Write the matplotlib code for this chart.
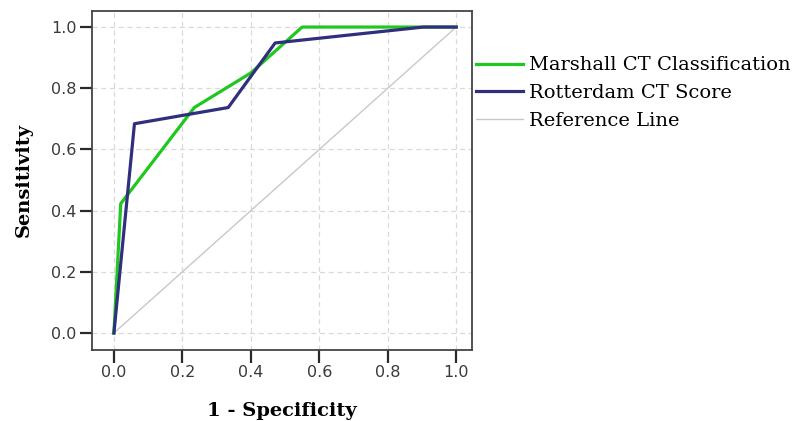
import matplotlib.pyplot as plt

# ROC curve points
marshall_fpr = [0.0, 0.02, 0.235, 0.40, 0.55, 1.0]
marshall_tpr = [0.0, 0.423, 0.737, 0.85, 1.0, 1.0]

rotterdam_fpr = [0.0, 0.06, 0.334, 0.471, 0.904, 1.0]
rotterdam_tpr = [0.0, 0.684, 0.737, 0.948, 1.0, 1.0]

ref_x = [0.0, 1.0]
ref_y = [0.0, 1.0]

ticks = [0.0, 0.2, 0.4, 0.6, 0.8, 1.0]

fig = plt.figure(figsize=(8.04, 4.21), dpi=100)
ax = fig.add_axes([0.114, 0.169, 0.473, 0.806])

ax.plot(marshall_fpr, marshall_tpr, color="#1ec81e", linewidth=2.3, label="Marshall CT Classification", zorder=3)
ax.plot(rotterdam_fpr, rotterdam_tpr, color="#2f2f7d", linewidth=2.3, label="Rotterdam CT Score", zorder=4)
ax.plot(ref_x, ref_y, color="#c8c8c8", linewidth=1.0, label="Reference Line", zorder=2)

ax.set_xlim(-0.065, 1.046)
ax.set_ylim(-0.055, 1.054)
ax.set_xticks(ticks)
ax.set_yticks(ticks)
ax.set_xticklabels([f"{t:.1f}" for t in ticks], fontsize=11.5, color="#3a3a3a")
ax.set_yticklabels([f"{t:.1f}" for t in ticks], fontsize=11.5, color="#3a3a3a")
ax.tick_params(direction="out", length=9, width=1.6, color="#2a2a2a", pad=2)

ax.grid(True, linestyle=(0, (4, 3)), color="#d9d9d9", linewidth=0.9)
ax.set_axisbelow(True)
for s in ax.spines.values():
    s.set_color("#444444")
    s.set_linewidth(1.3)

ax.set_xlabel("1 - Specificity", fontsize=14, fontweight="bold", family="DejaVu Serif", labelpad=16)
ax.set_ylabel("Sensitivity", fontsize=14, fontweight="bold", family="DejaVu Serif", labelpad=13)

ax.legend(loc="upper left", bbox_to_anchor=(0.99, 0.888), frameon=False,
          prop={"family": "DejaVu Serif", "size": 14}, handlelength=2.4,
          handletextpad=0.35, labelspacing=0.5, borderaxespad=0.0)

fig.savefig("out.png", dpi=100)
